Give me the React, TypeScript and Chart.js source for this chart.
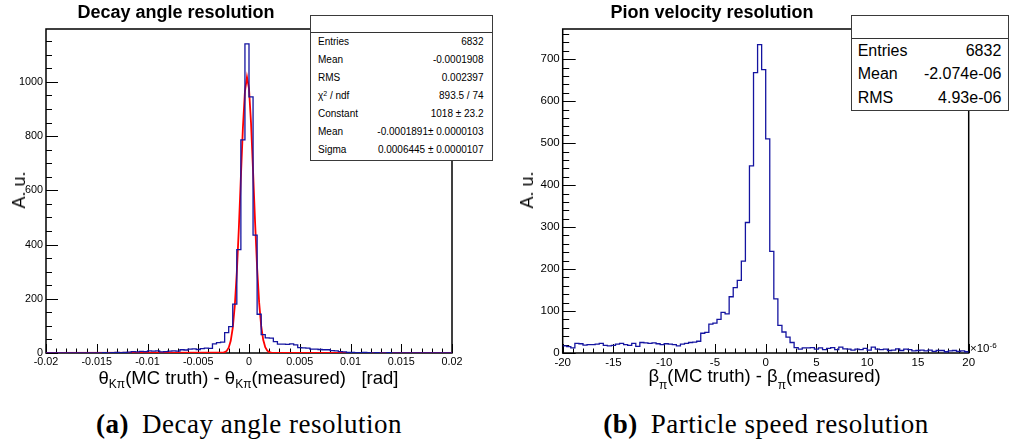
import React, { useEffect, useRef } from 'react';
import { Chart, registerables } from 'chart.js';
Chart.register(...registerables);

// ---------------- data ----------------
const angleBinLow = -0.02;
const angleBinWidth = 0.0004;
const angleCounts = [
  0, 0, 0, 0, 0, 0, 0, 0, 0, 0,
  0, 0, 0, 0, 1, 0, 1, 2, 1, 2,
  3, 5, 4, 6, 5, 8, 7, 8, 4, 5,
  7, 8, 7, 12, 11, 14, 15, 13, 16, 18,
  17, 34, 38, 40, 75, 97, 180, 381, 786, 1140,
  945, 435, 143, 68, 56, 55, 42, 33, 33, 32,
  34, 30, 20, 19, 18, 14, 14, 13, 12, 12,
  9, 8, 5, 4, 2, 2, 1, 1, 2, 1,
  0, 1, 0, 0, 1, 0, 0, 0, 0, 0,
  0, 0, 0, 0, 0, 0, 0, 0, 0, 0,
];
const angleFitX = [
  -0.02, -0.0026, -0.0024, -0.0022, -0.002, -0.0018, -0.0016, -0.0014, -0.0012, -0.001,
  -0.0008, -0.0006, -0.0004, -0.0002, 0, 0.0002, 0.0004, 0.0006, 0.0008, 0.001,
  0.0012, 0.0014, 0.0016, 0.0018, 0.002, 0.0022, 0.0024, 0.02,
];
const angleFitY = [
  0, 0.9, 2.8, 7.8, 19.6, 44.7, 92.7, 174.3, 297.5, 461.2,
  649.5, 830.7, 964.9, 1017.9, 975.2, 848.4, 670.5, 481.2, 313.6, 185.7,
  99.8, 48.7, 21.6, 8.7, 3.2, 1.1, 0.3, 0,
];
const angleXTicks = [-0.02, -0.015, -0.01, -0.005, 0, 0.005, 0.01, 0.015, 0.02];
const angleXTickLabels = ['-0.02', '-0.015', '-0.01', '-0.005', '0', '0.005', '0.01', '0.015', '0.02'];
const angleYTicks = [0, 200, 400, 600, 800, 1000];
const angleYMax = 1195;
const angleStatLabels = ['Entries', 'Mean', 'RMS', 'CHI', 'Constant', 'Mean', 'Sigma'];
const angleStatValues = ['6832', '-0.0001908', '0.002397', '893.5 / 74', '1018 \u00b1 23.2', '-0.0001891\u00b1 0.0000103', '0.0006445 \u00b1 0.0000107'];

const speedBinLow = -20;
const speedBinWidth = 0.4;
const speedCounts = [
  17, 15, 12, 23, 22, 19, 20, 20, 21, 23,
  18, 17, 18, 21, 23, 20, 18, 23, 16, 25,
  24, 23, 24, 22, 20, 22, 21, 20, 17, 21,
  23, 25, 26, 28, 47, 49, 69, 71, 80, 97,
  93, 134, 156, 173, 219, 311, 446, 668, 735, 675,
  510, 242, 129, 66, 50, 38, 25, 13, 9, 12,
  12, 13, 9, 12, 8, 11, 13, 8, 14, 10,
  9, 7, 9, 8, 11, 7, 14, 9, 8, 9,
  6, 7, 10, 6, 9, 8, 5, 6, 7, 5,
  7, 4, 6, 6, 3, 5, 6, 4, 5, 3,
];
const speedXTicks = [-20, -15, -10, -5, 0, 5, 10, 15, 20];
const speedXTickLabels = ['-20', '-15', '-10', '-5', '0', '5', '10', '15', '20'];
const speedYTicks = [0, 100, 200, 300, 400, 500, 600, 700];
const speedYMax = 772;
const speedStatLabels = ['Entries', 'Mean', 'RMS'];
const speedStatValues = ['6832', '-2.074e-06', '4.93e-06'];

// ---------------- helpers ----------------
const SANS = '"Liberation Sans", Arial, Helvetica, sans-serif';
const SERIF = '"Liberation Serif", "Times New Roman", serif';
const HIST_COLOR = 'rgb(20,20,160)';

function histPoints(low: number, width: number, counts: number[]) {
  const pts = counts.map((c, i) => ({ x: low + i * width, y: c }));
  pts.push({ x: low + counts.length * width, y: counts[counts.length - 1] });
  return pts;
}

const rootAxesPlugin = {
  id: 'rootAxes',
  beforeDatasetsDraw(chart: any, _args: any, o: any) {
    const { ctx, chartArea: a } = chart;
    const xs = chart.scales.x;
    const ys = chart.scales.y;
    ctx.save();
    ctx.strokeStyle = '#000';
    ctx.lineWidth = 1;
    ctx.beginPath();
    const nx = Math.round((xs.max - xs.min) / o.xMinor);
    for (let k = 0; k <= nx; k++) {
      const v = xs.min + k * o.xMinor;
      const major = o.xMajors.some((m: number) => Math.abs(m - v) < o.xMinor * 1e-3);
      const px = Math.round(xs.getPixelForValue(v)) + 0.5;
      ctx.moveTo(px, a.bottom);
      ctx.lineTo(px, a.bottom - (major ? o.xMajorLen : o.xMinorLen));
    }
    const ny = Math.floor(ys.max / o.yMinor + 1e-9);
    for (let k = 0; k <= ny; k++) {
      const v = k * o.yMinor;
      const major = o.yMajors.some((m: number) => Math.abs(m - v) < o.yMinor * 1e-3);
      const py = Math.round(ys.getPixelForValue(v)) + 0.5;
      ctx.moveTo(a.left, py);
      ctx.lineTo(a.left + (major ? o.yMajorLen : o.yMinorLen), py);
    }
    ctx.stroke();
    ctx.lineWidth = 1.5;
    ctx.strokeRect(a.left, a.top, a.right - a.left, a.bottom - a.top);
    ctx.restore();
  },
};

type HistProps = {
  left: number; top: number; width: number; height: number;
  area: { left: number; top: number; right: number; bottom: number };
  datasets: any[];
  xMin: number; xMax: number; yMax: number;
  xTicks: number[]; xLabels: string[]; yTicks: number[];
  xMinor: number; yMinor: number;
  fontSize: number;
  yMajorLen: number;
};

function RootHist(p: HistProps) {
  const ref = useRef<HTMLCanvasElement | null>(null);
  useEffect(() => {
    if (!ref.current) return;
    const chart = new Chart(ref.current, {
      type: 'line',
      data: { datasets: p.datasets },
      options: {
        responsive: false,
        animation: false,
        devicePixelRatio: 1,
        layout: { padding: { top: p.area.top, right: p.width - p.area.right, left: 0, bottom: 0 } },
        elements: { point: { radius: 0 }, line: { tension: 0 } },
        plugins: {
          legend: { display: false },
          tooltip: { enabled: false },
          rootAxes: {
            xMinor: p.xMinor, yMinor: p.yMinor, xMajors: p.xTicks, yMajors: p.yTicks,
            xMajorLen: 9, xMinorLen: 4.5, yMajorLen: p.yMajorLen, yMinorLen: p.yMajorLen / 2,
          },
        } as any,
        scales: {
          x: {
            type: 'linear', min: p.xMin, max: p.xMax,
            grid: { display: false, drawTicks: false }, border: { display: false },
            afterFit: (s: any) => { s.height = p.height - p.area.bottom; },
            afterBuildTicks: (s: any) => { s.ticks = p.xTicks.map((v) => ({ value: v })); },
            ticks: {
              autoSkip: false, maxRotation: 0, minRotation: 0, padding: 3, color: '#000',
              font: { family: SANS, size: p.fontSize },
              callback: (v: any) => {
                const i = p.xTicks.findIndex((t) => Math.abs(t - Number(v)) < 1e-12);
                return i >= 0 ? p.xLabels[i] : '';
              },
            },
          },
          y: {
            type: 'linear', min: 0, max: p.yMax,
            grid: { display: false, drawTicks: false }, border: { display: false },
            afterFit: (s: any) => { s.width = p.area.left; },
            afterBuildTicks: (s: any) => { s.ticks = p.yTicks.map((v) => ({ value: v })); },
            ticks: {
              padding: 3, color: '#000', font: { family: SANS, size: p.fontSize },
              callback: (v: any) => String(v),
            },
          },
        } as any,
      },
      plugins: [rootAxesPlugin as any],
    });
    return () => chart.destroy();
  }, []);
  return (
    <canvas
      ref={ref}
      width={p.width}
      height={p.height}
      style={{ position: 'absolute', left: p.left, top: p.top, width: p.width, height: p.height }}
    />
  );
}

function Txt(props: any) {
  const { x, y, size, bold, family, rotate, style, children } = props;
  return (
    <div
      style={{
        position: 'absolute', left: x, top: y,
        transform: `translate(-50%,-50%)${rotate ? ` rotate(${rotate}deg)` : ''}`,
        fontSize: size, lineHeight: 1, fontWeight: bold ? 700 : 400,
        fontFamily: family || SANS, whiteSpace: 'pre', color: '#000', ...style,
      }}
    >
      {children}
    </div>
  );
}

function Sub(props: any) {
  return (
    <span style={{ fontSize: props.scale || '0.65em', position: 'relative', top: props.drop || '0.4em' }}>
      {props.children}
    </span>
  );
}

function StatBox(props: any) {
  const { left, top, width, height, headerH, labels, values, size, padL, padR } = props;
  const innerH = height - 3;
  const rowH = (innerH - headerH) / labels.length;
  return (
    <div
      style={{
        position: 'absolute', left, top, width, height, boxSizing: 'border-box',
        border: '1.5px solid #3a3a3a', background: '#fff',
      }}
    >
      <div style={{ position: 'absolute', left: 0, right: 0, top: headerH - 0.5, height: 0, borderTop: '1px solid #333' }} />
      {labels.map((lab: string, i: number) => (
        <div
          key={i}
          style={{
            position: 'absolute', left: padL, right: padR, top: headerH + i * rowH, height: rowH,
            lineHeight: `${rowH}px`, display: 'flex', justifyContent: 'space-between',
            fontSize: size, fontFamily: SANS, whiteSpace: 'pre', color: '#000',
          }}
        >
          <span>
            {lab === 'CHI' ? (
              <>
                {'\u03c7'}
                <span style={{ fontSize: '0.7em', position: 'relative', top: '-0.45em' }}>2</span>
                {' / ndf'}
              </>
            ) : lab}
          </span>
          <span>{values[i]}</span>
        </div>
      ))}
    </div>
  );
}

export default function App() {
  const angleDatasets = [
    {
      data: histPoints(angleBinLow, angleBinWidth, angleCounts),
      stepped: 'before', borderColor: HIST_COLOR, borderWidth: 1.3, fill: false, pointRadius: 0,
    },
    {
      data: angleFitX.map((x, i) => ({ x, y: angleFitY[i] })),
      borderColor: '#ff0000', borderWidth: 1.8, fill: false, pointRadius: 0,
    },
  ];
  const speedDatasets = [
    {
      data: histPoints(speedBinLow, speedBinWidth, speedCounts),
      stepped: 'before', borderColor: HIST_COLOR, borderWidth: 1.3, fill: false, pointRadius: 0,
    },
  ];

  return (
    <div style={{ position: 'absolute', left: 0, top: 0, width: 1012, height: 444, background: '#fff', overflow: 'hidden' }}>
      <RootHist
        left={0} top={0} width={500} height={380}
        area={{ left: 46, top: 29, right: 452, bottom: 353 }}
        datasets={angleDatasets}
        xMin={-0.02} xMax={0.02} yMax={angleYMax}
        xTicks={angleXTicks} xLabels={angleXTickLabels} yTicks={angleYTicks}
        xMinor={0.001} yMinor={50} fontSize={10.8} yMajorLen={12}
      />
      <RootHist
        left={506} top={0} width={500} height={380}
        area={{ left: 56.7, top: 29, right: 462.7, bottom: 353 }}
        datasets={speedDatasets}
        xMin={-20} xMax={20} yMax={speedYMax}
        xTicks={speedXTicks} xLabels={speedXTickLabels} yTicks={speedYTicks}
        xMinor={1} yMinor={20} fontSize={11.5} yMajorLen={13}
      />

      <Txt x={176} y={11.5} size={18} bold>Decay angle resolution</Txt>
      <Txt x={712} y={11.5} size={18} bold>Pion velocity resolution</Txt>

      <Txt x={18.5} y={190} size={18} rotate={-90}>A. u.</Txt>
      <Txt x={526.5} y={190} size={18} rotate={-90}>A. u.</Txt>

      <Txt x={248.5} y={377.5} size={18.5}>
        {'\u03b8'}<Sub>K{'\u03c0'}</Sub>(MC truth) - {'\u03b8'}<Sub>K{'\u03c0'}</Sub>(measured)   [rad]
      </Txt>
      <Txt x={764.5} y={376} size={18.5}>
        {'\u03b2'}<Sub drop="0.55em">{'\u03c0'}</Sub>(MC truth) - {'\u03b2'}<Sub drop="0.55em">{'\u03c0'}</Sub>(measured)
      </Txt>

      <div style={{ position: 'absolute', left: 970, top: 343, fontSize: 11.5, lineHeight: 1, fontFamily: SANS, whiteSpace: 'pre', color: '#000' }}>
        {'\u00d710'}
        <span style={{ fontSize: '0.7em', position: 'relative', top: '-0.5em' }}>-6</span>
      </div>

      <StatBox
        left={310} top={15} width={183} height={146} headerH={16.5}
        labels={angleStatLabels} values={angleStatValues} size={10} padL={7} padR={8.5}
      />
      <StatBox
        left={850.7} top={15} width={158.6} height={96} headerH={22.5}
        labels={speedStatLabels} values={speedStatValues} size={16} padL={6} padR={7}
      />

      <Txt x={249} y={424} size={27} family={SERIF} style={{ letterSpacing: '0.5px' }}>
        <b>(a)</b><span style={{ marginLeft: 13 }}>Decay angle resolution</span>
      </Txt>
      <Txt x={766} y={424} size={27} family={SERIF} style={{ letterSpacing: '0.5px' }}>
        <b>(b)</b><span style={{ marginLeft: 13 }}>Particle speed resolution</span>
      </Txt>
    </div>
  );
}
